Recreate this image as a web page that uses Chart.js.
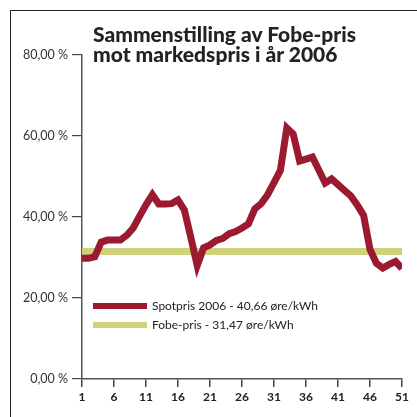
<!DOCTYPE html>
<html>
<head>
<meta charset="utf-8">
<script src="https://cdn.jsdelivr.net/npm/chart.js@4"></script>
<style>
    body { margin: 0; background: #fff; }
    #wrap { position: relative; width: 417px; height: 417px; overflow: hidden; }
    #frame { position: absolute; left: 10px; top: 10px; width: 420px; height: 420px;
             border-left: 1.5px solid #222; border-top: 1.5px solid #222; }
    #title { position: absolute; left: 93px; top: 24px; font-family: Lato, sans-serif;
             font-weight: 900; font-size: 21px; line-height: 20px; color: #222; }
    #legend { position: absolute; left: 93px; top: 296px; font-family: Lato, sans-serif;
              font-size: 12px; color: #222; }
    .item { display: flex; align-items: center; height: 19px; }
    .swatch { width: 54px; height: 6px; margin-right: 5px; }
</style>
</head>
<body>
<div id="wrap">
    <canvas id="chart" width="417" height="417"></canvas>
    <div id="frame"></div>
    <div id="title">Sammenstilling av Fobe-pris<br>mot markedspris i år 2006</div>
    <div id="legend"></div>
</div>
<script>
// Week numbers and weekly spot price (in % scale as on the chart)
const weeks = [1, 2, 3, 4, 5, 6, 7, 8, 9, 10, 11, 12, 13, 14, 15, 16, 17, 18, 19, 20,
    21, 22, 23, 24, 25, 26, 27, 28, 29, 30, 31, 32, 33, 34, 35, 36, 37, 38, 39, 40,
    41, 42, 43, 44, 45, 46, 47, 48, 49, 50, 51];
const spotPrices = [29.8, 29.8, 30.2, 33.8, 34.3, 34.3, 34.3, 35.5, 37.3, 40.2,
    43.0, 45.5, 43.2, 43.2, 43.3, 44.2, 41.7, 35.0, 28.0, 32.4,
    33.1, 34.2, 34.7, 35.9, 36.4, 37.3, 38.3, 42.0, 43.3, 45.5,
    48.5, 51.5, 62.0, 60.5, 53.8, 54.3, 54.8, 51.6, 48.4, 49.4,
    48.0, 46.6, 45.2, 43.0, 40.4, 32.0, 28.6, 27.4, 28.3, 29.0, 27.3];
const fobePrice = 31.47;
const xTicks = [1, 6, 11, 16, 21, 26, 31, 36, 41, 46, 51];
const yTicks = [0, 20, 40, 60, 80];

const seriesLabels = ['Spotpris 2006 - 40,66 øre/kWh', 'Fobe-pris - 31,47 øre/kWh'];
const seriesColors = ['#9b1a2f', '#cfd27a'];

const ctx = document.getElementById('chart').getContext('2d');
const chart = new Chart(ctx, {
    type: 'line',
    data: {
        datasets: [{
            label: seriesLabels[0],
            data: weeks.map((w, i) => ({ x: w, y: spotPrices[i] })),
            borderColor: seriesColors[0],
            borderWidth: 7,
            borderJoinStyle: 'miter',
            pointRadius: 0,
            tension: 0
        }, {
            label: seriesLabels[1],
            data: [{ x: weeks[0], y: fobePrice }, { x: weeks[weeks.length - 1], y: fobePrice }],
            borderColor: seriesColors[1],
            borderWidth: 7,
            borderCapStyle: 'butt',
            pointRadius: 0
        }]
    },
    options: {
        responsive: false,
        animation: false,
        layout: { padding: { left: 0, top: 55, right: 15, bottom: 0 } },
        plugins: { legend: { display: false }, tooltip: { enabled: false } },
        scales: {
            x: {
                type: 'linear',
                min: 1,
                max: 51,
                afterBuildTicks: scale => { scale.ticks = xTicks.map(v => ({ value: v })); },
                afterFit: scale => { scale.height = 38; },
                grid: { drawOnChartArea: false, tickLength: 8, color: '#444', lineWidth: 1.5 },
                border: { display: true, color: '#555', width: 1.5 },
                ticks: {
                    autoSkip: false,
                    maxRotation: 0,
                    padding: 3,
                    color: '#222',
                    font: { family: 'Lato', size: 12, weight: 'bold' }
                }
            },
            y: {
                min: 0,
                max: 80,
                afterBuildTicks: scale => { scale.ticks = yTicks.map(v => ({ value: v })); },
                afterFit: scale => { scale.width = 82; },
                grid: { drawOnChartArea: false, tickLength: 10, color: '#444', lineWidth: 1.2 },
                border: { display: true, color: '#555', width: 1.5 },
                ticks: {
                    padding: 4,
                    color: '#333',
                    font: { family: 'Lato', size: 12.5 },
                    callback: v => v.toFixed(2).replace('.', ',') + ' %'
                }
            }
        }
    }
});

// Build legend from dataset labels
const legend = document.getElementById('legend');
chart.data.datasets.forEach(ds => {
    const item = document.createElement('div');
    item.className = 'item';
    const swatch = document.createElement('span');
    swatch.className = 'swatch';
    swatch.style.background = ds.borderColor;
    const text = document.createElement('span');
    text.textContent = ds.label;
    item.appendChild(swatch);
    item.appendChild(text);
    legend.appendChild(item);
});
</script>
</body>
</html>
